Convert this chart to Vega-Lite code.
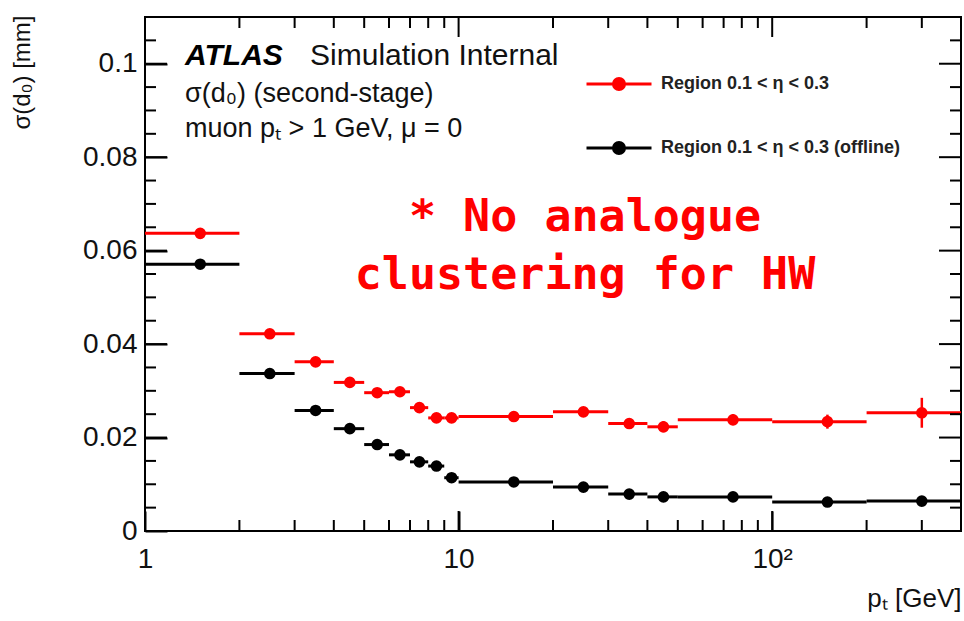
{
  "$schema": "https://vega.github.io/schema/vega-lite/v6.json",
  "width": 816,
  "height": 514,
  "autosize": {"type": "none"},
  "padding": {"left": 145, "top": 17, "right": 3, "bottom": 90},
  "background": "white",
  "config": {
    "view": {"stroke": "#000", "strokeWidth": 2},
    "font": "Liberation Sans",
    "axis": {
      "domain": false,
      "grid": false,
      "tickColor": "#000",
      "tickWidth": 2,
      "labelFont": "Liberation Sans",
      "labelFontSize": 28,
      "labelColor": "#111",
      "labelFlush": false,
      "labelOverlap": false,
      "titleFont": "Liberation Sans",
      "titleFontWeight": "normal",
      "titleColor": "#111"
    }
  },
  "datasets": {
    "pts": [
      {"s": "Region 0.1 < η < 0.3", "lo": 1, "hi": 2, "x": 1.5, "y": 0.0637, "ylo": 0.0633, "yhi": 0.0641},
      {"s": "Region 0.1 < η < 0.3", "lo": 2, "hi": 3, "x": 2.5, "y": 0.0422, "ylo": 0.0417, "yhi": 0.0427},
      {"s": "Region 0.1 < η < 0.3", "lo": 3, "hi": 4, "x": 3.5, "y": 0.0362, "ylo": 0.0357, "yhi": 0.0367},
      {"s": "Region 0.1 < η < 0.3", "lo": 4, "hi": 5, "x": 4.5, "y": 0.0318, "ylo": 0.0313, "yhi": 0.0323},
      {"s": "Region 0.1 < η < 0.3", "lo": 5, "hi": 6, "x": 5.5, "y": 0.0296, "ylo": 0.0291, "yhi": 0.0301},
      {"s": "Region 0.1 < η < 0.3", "lo": 6, "hi": 7, "x": 6.5, "y": 0.0298, "ylo": 0.0292, "yhi": 0.0304},
      {"s": "Region 0.1 < η < 0.3", "lo": 7, "hi": 8, "x": 7.5, "y": 0.0264, "ylo": 0.0256, "yhi": 0.0272},
      {"s": "Region 0.1 < η < 0.3", "lo": 8, "hi": 9, "x": 8.5, "y": 0.0242, "ylo": 0.0236, "yhi": 0.0248},
      {"s": "Region 0.1 < η < 0.3", "lo": 9, "hi": 10, "x": 9.5, "y": 0.0242, "ylo": 0.0236, "yhi": 0.0248},
      {"s": "Region 0.1 < η < 0.3", "lo": 10, "hi": 20, "x": 15, "y": 0.0245, "ylo": 0.0239, "yhi": 0.0251},
      {"s": "Region 0.1 < η < 0.3", "lo": 20, "hi": 30, "x": 25, "y": 0.0255, "ylo": 0.0247, "yhi": 0.0263},
      {"s": "Region 0.1 < η < 0.3", "lo": 30, "hi": 40, "x": 35, "y": 0.0230, "ylo": 0.0220, "yhi": 0.0240},
      {"s": "Region 0.1 < η < 0.3", "lo": 40, "hi": 50, "x": 45, "y": 0.0223, "ylo": 0.0211, "yhi": 0.0235},
      {"s": "Region 0.1 < η < 0.3", "lo": 50, "hi": 100, "x": 75, "y": 0.0238, "ylo": 0.0226, "yhi": 0.0250},
      {"s": "Region 0.1 < η < 0.3", "lo": 100, "hi": 200, "x": 150, "y": 0.0234, "ylo": 0.0219, "yhi": 0.0249},
      {"s": "Region 0.1 < η < 0.3", "lo": 200, "hi": 400, "x": 300, "y": 0.0253, "ylo": 0.0221, "yhi": 0.0285},
      {"s": "Region 0.1 < η < 0.3 (offline)", "lo": 1, "hi": 2, "x": 1.5, "y": 0.0571, "ylo": 0.0568, "yhi": 0.0574},
      {"s": "Region 0.1 < η < 0.3 (offline)", "lo": 2, "hi": 3, "x": 2.5, "y": 0.0337, "ylo": 0.0334, "yhi": 0.0340},
      {"s": "Region 0.1 < η < 0.3 (offline)", "lo": 3, "hi": 4, "x": 3.5, "y": 0.0258, "ylo": 0.0255, "yhi": 0.0261},
      {"s": "Region 0.1 < η < 0.3 (offline)", "lo": 4, "hi": 5, "x": 4.5, "y": 0.0219, "ylo": 0.0216, "yhi": 0.0222},
      {"s": "Region 0.1 < η < 0.3 (offline)", "lo": 5, "hi": 6, "x": 5.5, "y": 0.0185, "ylo": 0.0182, "yhi": 0.0188},
      {"s": "Region 0.1 < η < 0.3 (offline)", "lo": 6, "hi": 7, "x": 6.5, "y": 0.0163, "ylo": 0.0160, "yhi": 0.0166},
      {"s": "Region 0.1 < η < 0.3 (offline)", "lo": 7, "hi": 8, "x": 7.5, "y": 0.0148, "ylo": 0.0145, "yhi": 0.0151},
      {"s": "Region 0.1 < η < 0.3 (offline)", "lo": 8, "hi": 9, "x": 8.5, "y": 0.0139, "ylo": 0.0134, "yhi": 0.0144},
      {"s": "Region 0.1 < η < 0.3 (offline)", "lo": 9, "hi": 10, "x": 9.5, "y": 0.0114, "ylo": 0.0111, "yhi": 0.0117},
      {"s": "Region 0.1 < η < 0.3 (offline)", "lo": 10, "hi": 20, "x": 15, "y": 0.0105, "ylo": 0.0102, "yhi": 0.0108},
      {"s": "Region 0.1 < η < 0.3 (offline)", "lo": 20, "hi": 30, "x": 25, "y": 0.0094, "ylo": 0.0091, "yhi": 0.0097},
      {"s": "Region 0.1 < η < 0.3 (offline)", "lo": 30, "hi": 40, "x": 35, "y": 0.0079, "ylo": 0.0076, "yhi": 0.0082},
      {"s": "Region 0.1 < η < 0.3 (offline)", "lo": 40, "hi": 50, "x": 45, "y": 0.0073, "ylo": 0.0070, "yhi": 0.0076},
      {"s": "Region 0.1 < η < 0.3 (offline)", "lo": 50, "hi": 100, "x": 75, "y": 0.0073, "ylo": 0.0070, "yhi": 0.0076},
      {"s": "Region 0.1 < η < 0.3 (offline)", "lo": 100, "hi": 200, "x": 150, "y": 0.0062, "ylo": 0.0059, "yhi": 0.0065},
      {"s": "Region 0.1 < η < 0.3 (offline)", "lo": 200, "hi": 400, "x": 300, "y": 0.0064, "ylo": 0.0060, "yhi": 0.0068}
    ],
    "xmaj": [{"v": 10}, {"v": 100}],
    "xmin": [{"v": 2}, {"v": 3}, {"v": 4}, {"v": 5}, {"v": 6}, {"v": 7}, {"v": 8}, {"v": 9}, {"v": 20}, {"v": 30}, {"v": 40}, {"v": 50}, {"v": 60}, {"v": 70}, {"v": 80}, {"v": 90}, {"v": 200}, {"v": 300}],
    "ymaj": [{"v": 0.02}, {"v": 0.04}, {"v": 0.06}, {"v": 0.08}, {"v": 0.1}],
    "ymin": [{"v": 0.005}, {"v": 0.01}, {"v": 0.015}, {"v": 0.025}, {"v": 0.03}, {"v": 0.035}, {"v": 0.045}, {"v": 0.05}, {"v": 0.055}, {"v": 0.065}, {"v": 0.07}, {"v": 0.075}, {"v": 0.085}, {"v": 0.09}, {"v": 0.095}, {"v": 0.105}],
    "atlas": [{"x": 1.342, "y": 0.0998, "t": "ATLAS"}],
    "sim": [{"x": 3.36, "y": 0.0998, "t": "Simulation Internal"}],
    "info": [
      {"x": 1.342, "y": 0.0918, "t": "σ(d₀) (second-stage)"},
      {"x": 1.342, "y": 0.0843, "t": "muon pₜ > 1 GeV, μ = 0"}
    ],
    "note": [{"x": 25.3, "y": 0.0642, "t": "* No analogue\nclustering for HW"}]
  },
  "resolve": {"axis": {"x": "independent", "y": "independent"}},
  "layer": [
    {
      "data": {"name": "pts"},
      "mark": {"type": "rule", "strokeWidth": 3},
      "encoding": {
        "x": {
          "field": "lo", "type": "quantitative",
          "scale": {"type": "log", "domain": [1, 400], "nice": false, "padding": 0},
          "axis": {
            "orient": "bottom", "values": [1, 10, 100], "offset": -20, "tickSize": 20, "labelPadding": 14,
            "format": "~g", "labelExpr": "datum.value == 100 ? '10²' : datum.label",
            "title": "pₜ [GeV]", "titleFontSize": 26, "titleAnchor": "end", "titleAlign": "right",
            "titleBaseline": "alphabetic", "titleX": 816, "titleY": 95
          }
        },
        "x2": {"field": "hi"},
        "y": {
          "field": "y", "type": "quantitative",
          "scale": {"domain": [0, 0.11], "nice": false, "padding": 0},
          "axis": {
            "orient": "left", "values": [0, 0.02, 0.04, 0.06, 0.08, 0.1], "offset": -22, "tickSize": 22, "labelPadding": 8,
            "format": "~g", "title": "σ(d₀) [mm]", "titleFontSize": 24, "titleAngle": -90,
            "titleAlign": "right", "titleBaseline": "top", "titleX": -157, "titleY": -2
          }
        },
        "color": {
          "field": "s", "type": "nominal",
          "scale": {"domain": ["Region 0.1 < η < 0.3", "Region 0.1 < η < 0.3 (offline)"], "range": ["#ff0000", "#000000"]},
          "legend": {
            "title": null, "orient": "none", "legendX": 440, "legendY": 33,
            "symbolType": "M-1,0L1,0M-0.17,0A0.17,0.17,0,1,1,0.17,0A0.17,0.17,0,1,1,-0.17,0Z",
            "symbolSize": 4225, "symbolStrokeWidth": 3,
            "labelFont": "Liberation Sans", "labelFontSize": 18, "labelFontWeight": "bold", "labelColor": "#222",
            "labelLimit": 0, "labelOffset": 8, "rowPadding": 18, "padding": 0,
            "encode": {"symbols": {"update": {"stroke": {"scale": "color", "field": "value"}, "fill": {"scale": "color", "field": "value"}}}}
          }
        }
      }
    },
    {
      "data": {"name": "xmaj"},
      "mark": {"type": "point", "shape": "M0,-1L0,1", "filled": false, "color": "black", "opacity": 1, "strokeWidth": 2, "size": 400, "yOffset": -10},
      "encoding": {
        "x": {"field": "v", "type": "quantitative", "axis": null},
        "y": {"datum": 0, "type": "quantitative", "axis": null}
      }
    },
    {
      "data": {"name": "xmaj"},
      "mark": {"type": "point", "shape": "M0,-1L0,1", "filled": false, "color": "black", "opacity": 1, "strokeWidth": 2, "size": 400, "yOffset": 10},
      "encoding": {
        "x": {"field": "v", "type": "quantitative", "axis": null},
        "y": {"datum": 0.11, "type": "quantitative", "axis": null}
      }
    },
    {
      "data": {"name": "xmin"},
      "mark": {"type": "point", "shape": "M0,-1L0,1", "filled": false, "color": "black", "opacity": 1, "strokeWidth": 2, "size": 121, "yOffset": -5.5},
      "encoding": {
        "x": {"field": "v", "type": "quantitative", "axis": null},
        "y": {"datum": 0, "type": "quantitative", "axis": null}
      }
    },
    {
      "data": {"name": "xmin"},
      "mark": {"type": "point", "shape": "M0,-1L0,1", "filled": false, "color": "black", "opacity": 1, "strokeWidth": 2, "size": 121, "yOffset": 5.5},
      "encoding": {
        "x": {"field": "v", "type": "quantitative", "axis": null},
        "y": {"datum": 0.11, "type": "quantitative", "axis": null}
      }
    },
    {
      "data": {"name": "ymaj"},
      "mark": {"type": "point", "shape": "M-1,0L1,0", "filled": false, "color": "black", "opacity": 1, "strokeWidth": 2, "size": 484, "xOffset": 11},
      "encoding": {
        "y": {"field": "v", "type": "quantitative", "axis": null},
        "x": {"datum": 1, "type": "quantitative", "axis": null}
      }
    },
    {
      "data": {"name": "ymaj"},
      "mark": {"type": "point", "shape": "M-1,0L1,0", "filled": false, "color": "black", "opacity": 1, "strokeWidth": 2, "size": 484, "xOffset": -11},
      "encoding": {
        "y": {"field": "v", "type": "quantitative", "axis": null},
        "x": {"datum": 400, "type": "quantitative", "axis": null}
      }
    },
    {
      "data": {"name": "ymin"},
      "mark": {"type": "point", "shape": "M-1,0L1,0", "filled": false, "color": "black", "opacity": 1, "strokeWidth": 2, "size": 121, "xOffset": 5.5},
      "encoding": {
        "y": {"field": "v", "type": "quantitative", "axis": null},
        "x": {"datum": 1, "type": "quantitative", "axis": null}
      }
    },
    {
      "data": {"name": "ymin"},
      "mark": {"type": "point", "shape": "M-1,0L1,0", "filled": false, "color": "black", "opacity": 1, "strokeWidth": 2, "size": 121, "xOffset": -5.5},
      "encoding": {
        "y": {"field": "v", "type": "quantitative", "axis": null},
        "x": {"datum": 400, "type": "quantitative", "axis": null}
      }
    },
    {
      "data": {"name": "pts"},
      "mark": {"type": "rule", "strokeWidth": 2.5},
      "encoding": {
        "x": {"field": "x", "type": "quantitative", "axis": null},
        "y": {"field": "ylo", "type": "quantitative", "axis": null},
        "y2": {"field": "yhi"},
        "color": {"field": "s", "type": "nominal", "legend": null}
      }
    },
    {
      "data": {"name": "pts"},
      "mark": {"type": "circle", "size": 135, "opacity": 1},
      "encoding": {
        "x": {"field": "x", "type": "quantitative", "axis": null},
        "y": {"field": "y", "type": "quantitative", "axis": null},
        "color": {"field": "s", "type": "nominal", "legend": null}
      }
    },
    {
      "data": {"name": "atlas"},
      "mark": {"type": "text", "font": "Liberation Sans", "fontSize": 30, "fontWeight": "bold", "fontStyle": "italic", "align": "left", "baseline": "alphabetic", "color": "#000"},
      "encoding": {
        "x": {"field": "x", "type": "quantitative", "axis": null},
        "y": {"field": "y", "type": "quantitative", "axis": null},
        "text": {"field": "t"}
      }
    },
    {
      "data": {"name": "sim"},
      "mark": {"type": "text", "font": "Liberation Sans", "fontSize": 30, "align": "left", "baseline": "alphabetic", "color": "#111"},
      "encoding": {
        "x": {"field": "x", "type": "quantitative", "axis": null},
        "y": {"field": "y", "type": "quantitative", "axis": null},
        "text": {"field": "t"}
      }
    },
    {
      "data": {"name": "info"},
      "mark": {"type": "text", "font": "Liberation Sans", "fontSize": 27, "align": "left", "baseline": "alphabetic", "color": "#111"},
      "encoding": {
        "x": {"field": "x", "type": "quantitative", "axis": null},
        "y": {"field": "y", "type": "quantitative", "axis": null},
        "text": {"field": "t"}
      }
    },
    {
      "data": {"name": "note"},
      "mark": {"type": "text", "font": "DejaVu Sans Mono", "fontSize": 45, "fontWeight": "bold", "align": "center", "baseline": "alphabetic", "color": "#ff0000", "lineBreak": "\n", "lineHeight": 58},
      "encoding": {
        "x": {"field": "x", "type": "quantitative", "axis": null},
        "y": {"field": "y", "type": "quantitative", "axis": null},
        "text": {"field": "t"}
      }
    }
  ]
}
